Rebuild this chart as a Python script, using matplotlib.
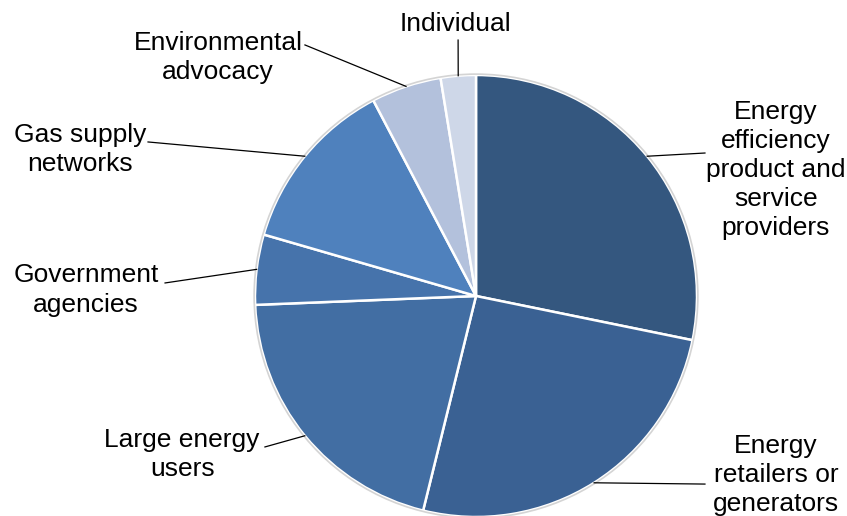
import numpy as np
import matplotlib
matplotlib.use("Agg")
import matplotlib.pyplot as plt
from matplotlib.patches import Circle

plt.rcParams['font.family'] = ['Liberation Sans', 'DejaVu Sans']

labels = ['Energy\nefficiency\nproduct and\nservice\nproviders',
          'Energy\nretailers or\ngenerators',
          'Large energy\nusers',
          'Government\nagencies',
          'Gas supply\nnetworks',
          'Environmental\nadvocacy',
          'Individual']
counts = [11, 10, 8, 2, 5, 2, 1]
colors = ['#34577f', '#3a6193', '#426ea3', '#4673ab', '#4f81bd', '#b3c1dc', '#ced7e8']

# label text centres and leader end points (data units, pie radius = 1)
text_pos = [(1.357, 0.570), (1.357, -0.810), (-1.330, -0.719), (-1.765, 0.027),
            (-1.792, 0.661), (-1.167, 1.081), (-0.095, 1.231)]
line_end = [(1.036, 0.647), (1.036, -0.851), (-0.955, -0.683), (-1.407, 0.059),
            (-1.484, 0.697), (-0.774, 1.136), (-0.081, 1.158)]

W, H = 847, 516
cx, cy, r = 476, 296, 221

fig = plt.figure(figsize=(W / 100, H / 100), dpi=100)
ax = fig.add_axes([0, 0, 1, 1])

wedges, _ = ax.pie(counts, colors=colors, startangle=90, counterclock=False,
                   radius=1, center=(0, 0), frame=True,
                   wedgeprops=dict(edgecolor='white', linewidth=1.8))
ax.set_xlim(-cx / r, (W - cx) / r)
ax.set_ylim(-(H - cy) / r, cy / r)
ax.set_aspect('auto')
ax.axis('off')
ax.add_patch(Circle((0, 0), 1.004, fill=False, edgecolor='#d4d4d4', linewidth=1.2))

for w, lab, tp, le in zip(wedges, labels, text_pos, line_end):
    ang = np.deg2rad((w.theta1 + w.theta2) / 2)
    x0, y0 = np.cos(ang), np.sin(ang)
    ax.plot([x0, le[0]], [y0, le[1]], color='black', linewidth=0.9)
    ax.text(tp[0], tp[1], lab, ha='center', va='center', fontsize=19,
            linespacing=1.27, color='black')

fig.savefig('out.png', dpi=100)
